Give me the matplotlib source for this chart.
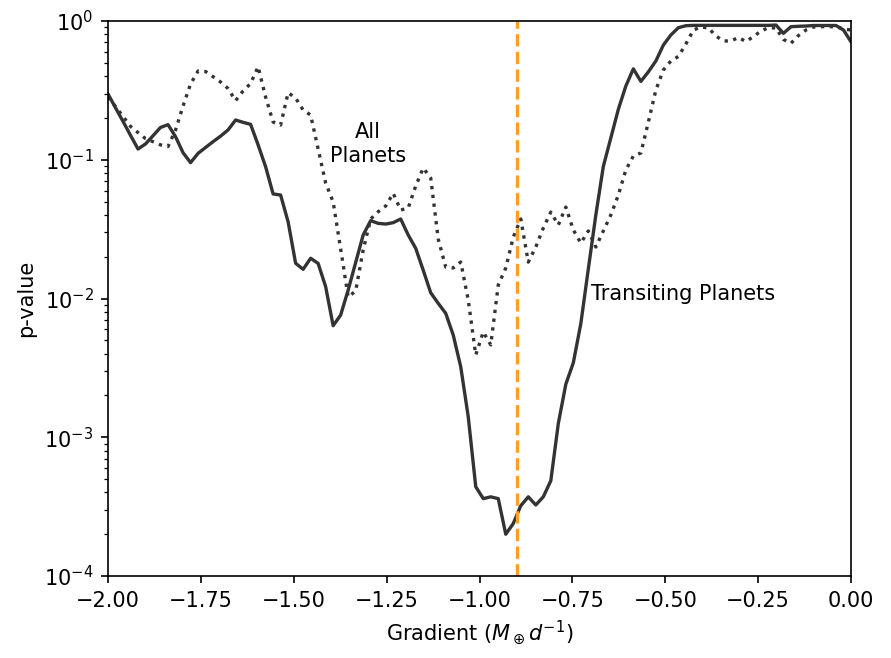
import numpy as np
import matplotlib
matplotlib.use("Agg")
import matplotlib.pyplot as plt

# Gradient grid (100 evenly spaced samples from -2 to 0)
gradient = np.linspace(-2.0, 0.0, 100)

# p-values for transiting planets (solid line)
p_transiting = [
    0.298, 0.237, 0.189, 0.150, 0.1195, 0.130, 0.149, 0.171, 0.179, 0.1466,
    0.1124, 0.0953, 0.1112, 0.1226, 0.135, 0.148, 0.164, 0.1934, 0.186, 0.180,
    0.128, 0.0891, 0.0567, 0.0557, 0.0357, 0.01794, 0.01623, 0.0195, 0.0179, 0.01217,
    0.00637, 0.0076, 0.0115, 0.01817, 0.0287, 0.0364, 0.0348, 0.0344, 0.0352, 0.0374,
    0.0287, 0.0230, 0.0160, 0.0110, 0.00923, 0.00782, 0.00545, 0.00322, 0.001405, 0.000440,
    0.000361, 0.000372, 0.000361, 0.000200, 0.000239, 0.000321, 0.000372, 0.000325, 0.000372, 0.000486,
    0.001254, 0.00241, 0.00344, 0.00659, 0.01633, 0.0400, 0.0896, 0.1437, 0.231, 0.340,
    0.452, 0.367, 0.430, 0.515, 0.671, 0.793, 0.895, 0.925, 0.93, 0.93,
    0.93, 0.93, 0.93, 0.93, 0.93, 0.93, 0.93, 0.93, 0.93, 0.935,
    0.815, 0.910, 0.916, 0.92, 0.928, 0.928, 0.928, 0.928, 0.861, 0.709,
]

# p-values for all planets (dotted line)
p_all = [
    0.282, 0.242, 0.205, 0.174, 0.157, 0.142, 0.135, 0.128, 0.1246, 0.1638,
    0.244, 0.3516, 0.436, 0.4325, 0.397, 0.3634, 0.326, 0.2665, 0.313, 0.3544,
    0.4685, 0.2834, 0.187, 0.178, 0.304, 0.2786, 0.2284, 0.210, 0.1195, 0.0680,
    0.0496, 0.02275, 0.01025, 0.01132, 0.0224, 0.0374, 0.0422, 0.0464, 0.0573, 0.0434,
    0.0449, 0.0647, 0.0872, 0.0739, 0.0268, 0.01686, 0.0166, 0.01833, 0.00976, 0.00392,
    0.00574, 0.00463, 0.0125, 0.0166, 0.0277, 0.0374, 0.0183, 0.0235, 0.0322, 0.0420,
    0.0339, 0.0456, 0.0312, 0.0251, 0.0307, 0.0235, 0.0307, 0.0400, 0.0557, 0.0844,
    0.1064, 0.1119, 0.187, 0.318, 0.4435, 0.515, 0.555, 0.683, 0.861, 0.905,
    0.891, 0.780, 0.718, 0.718, 0.760, 0.712, 0.771, 0.847, 0.895, 0.891,
    0.736, 0.691, 0.786, 0.861, 0.905, 0.910, 0.910, 0.910, 0.876, 0.861,
]

vline_x = -0.9

fig = plt.figure(figsize=(891 / 150, 658 / 150), dpi=150)
ax = fig.add_axes([108 / 891, 1 - 576 / 658, (851 - 108) / 891, (576 - 21) / 658])

line_color = "#333333"
ax.plot(gradient, p_transiting, color=line_color, lw=1.6, ls="-")
ax.plot(gradient, p_all, color=line_color, lw=1.6, ls=":")
ax.axvline(vline_x, color="#ff9e25", lw=1.6, ls="--")

ax.set_yscale("log")
ax.set_xlim(-2.0, 0.0)
ax.set_ylim(1e-4, 1.0)
ax.set_xticks(np.arange(-2.0, 0.01, 0.25))

ax.text(-1.3, 0.13, "All\nPlanets", ha="center", va="center", fontsize=10,
        multialignment="center")
ax.text(-0.7, 0.0107, "Transiting Planets", ha="left", va="center", fontsize=10)

ax.set_xlabel(r"Gradient ($M_\oplus d^{-1}$)", fontsize=10)
ax.set_ylabel("p-value", fontsize=10)

fig.savefig("out.png", dpi=150)
